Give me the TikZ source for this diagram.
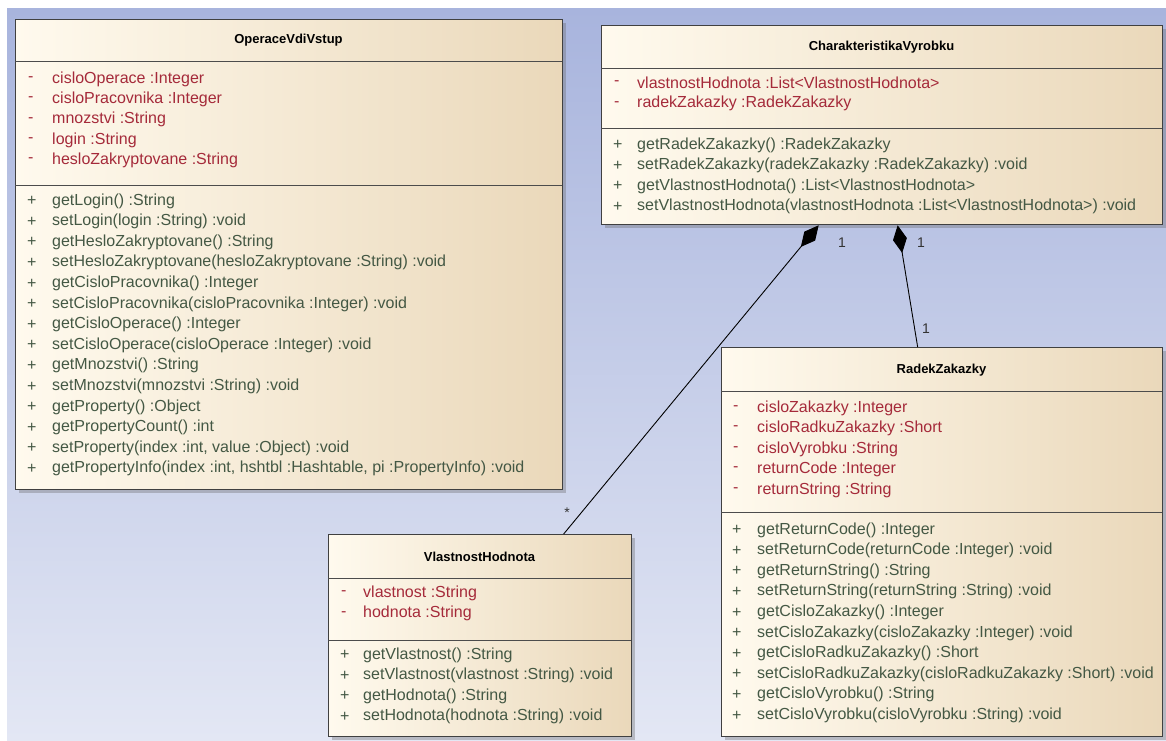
\documentclass[tikz,border=0pt]{standalone}
\usepackage{fontspec}
\setmainfont{Liberation Sans}
\usepackage{tikz}
\usetikzlibrary{arrows.meta,shadows}

\definecolor{bgtop}{RGB}{168,180,221}
\definecolor{bgbot}{RGB}{227,231,244}
\definecolor{boxl}{RGB}{255,250,238}
\definecolor{boxr}{RGB}{234,216,186}
\definecolor{attrc}{RGB}{165,42,58}
\definecolor{opc}{RGB}{68,88,68}

\begin{document}
\begin{tikzpicture}[x=1pt,y=-1pt,
  cls/.style={draw=black!75,line width=1.3pt,left color=boxl,right color=boxr,
    anchor=north west,inner sep=0pt,
    drop shadow={shadow xshift=3pt,shadow yshift=-3pt,fill=black!60,opacity=0.35}},
  sep/.style={draw=black!70,line width=1pt},
  title/.style={inner sep=0pt,font=\fontsize{13}{15}\selectfont\bfseries},
  attr/.style={anchor=west,inner sep=0pt,text=attrc,font=\fontsize{16}{18}\selectfont},
  oper/.style={anchor=west,inner sep=0pt,text=opc,font=\fontsize{16}{18}\selectfont},
  mult/.style={inner sep=0pt,text=black!80,font=\fontsize{14}{16}\selectfont},
  comp/.style={draw=black,line width=0.9pt,-{Diamond[length=28pt,width=14pt]}}]
\useasboundingbox (0,0) rectangle (1166,740);
\fill[white] (0,0) rectangle (1166,740);
\fill[top color=bgtop,bottom color=bgbot] (7,8) rectangle (1166,740);

\node[cls,minimum width=547pt,minimum height=470pt] (opv) at (15,19) {};
\node[title] (opv-t) at (288.5,40) {OperaceVdiVstup};
\draw[sep] (15,61) -- (562,61);
\draw[sep] (15,185) -- (562,185);
\foreach \t [count=\i from 0] in {cisloOperace :Integer,cisloPracovnika :Integer,
    mnozstvi :String,login :String,hesloZakryptovane :String}{
  \node[attr] (opv-am\i) at (28,79+20.3*\i) {-};
  \node[attr] (opv-a\i) at (52,79+20.3*\i) {\t};
}
\foreach \t [count=\i from 0] in {getLogin() :String,setLogin(login :String) :void,
    getHesloZakryptovane() :String,setHesloZakryptovane(hesloZakryptovane :String) :void,
    getCisloPracovnika() :Integer,setCisloPracovnika(cisloPracovnika :Integer) :void,
    getCisloOperace() :Integer,setCisloOperace(cisloOperace :Integer) :void,
    getMnozstvi() :String,setMnozstvi(mnozstvi :String) :void,
    getProperty() :Object,getPropertyCount() :int,
    {setProperty(index :int, value :Object) :void},
    {getPropertyInfo(index :int, hshtbl :Hashtable, pi :PropertyInfo) :void}}{
  \node[oper] (opv-om\i) at (27,201+20.6*\i) {+};
  \node[oper] (opv-o\i) at (52,201+20.6*\i) {\t};
}

\node[cls,minimum width=561pt,minimum height=199pt] (cv) at (601,25) {};
\node[title] (cv-t) at (881.5,47) {CharakteristikaVyrobku};
\draw[sep] (601,68) -- (1162,68);
\draw[sep] (601,128) -- (1162,128);
\foreach \t [count=\i from 0] in {vlastnostHodnota :List<VlastnostHodnota>,
    radekZakazky :RadekZakazky}{
  \node[attr] (cv-am\i) at (614,83+20.6*\i) {-};
  \node[attr] (cv-a\i) at (637,83+20.6*\i) {\t};
}
\foreach \t [count=\i from 0] in {getRadekZakazky() :RadekZakazky,
    setRadekZakazky(radekZakazky :RadekZakazky) :void,
    getVlastnostHodnota() :List<VlastnostHodnota>,
    setVlastnostHodnota(vlastnostHodnota :List<VlastnostHodnota>) :void}{
  \node[oper] (cv-om\i) at (613,145+20.6*\i) {+};
  \node[oper] (cv-o\i) at (637,145+20.6*\i) {\t};
}

\node[cls,minimum width=441pt,minimum height=389pt] (rz) at (721,347) {};
\node[title] (rz-t) at (941.5,370) {RadekZakazky};
\draw[sep] (721,391) -- (1162,391);
\draw[sep] (721,512) -- (1162,512);
\foreach \t [count=\i from 0] in {cisloZakazky :Integer,cisloRadkuZakazky :Short,
    cisloVyrobku :String,returnCode :Integer,returnString :String}{
  \node[attr] (rz-am\i) at (733,408+20.5*\i) {-};
  \node[attr] (rz-a\i) at (757,408+20.5*\i) {\t};
}
\foreach \t [count=\i from 0] in {getReturnCode() :Integer,
    setReturnCode(returnCode :Integer) :void,getReturnString() :String,
    setReturnString(returnString :String) :void,getCisloZakazky() :Integer,
    setCisloZakazky(cisloZakazky :Integer) :void,getCisloRadkuZakazky() :Short,
    setCisloRadkuZakazky(cisloRadkuZakazky :Short) :void,
    getCisloVyrobku() :String,setCisloVyrobku(cisloVyrobku :String) :void}{
  \node[oper] (rz-om\i) at (732,530+20.6*\i) {+};
  \node[oper] (rz-o\i) at (757,530+20.6*\i) {\t};
}

\node[cls,minimum width=303pt,minimum height=202pt] (vh) at (328,534) {};
\node[title] (vh-t) at (479.5,557) {VlastnostHodnota};
\draw[sep] (328,578) -- (631,578);
\draw[sep] (328,640) -- (631,640);
\foreach \t [count=\i from 0] in {vlastnost :String,hodnota :String}{
  \node[attr] (vh-am\i) at (341,593+20.6*\i) {-};
  \node[attr] (vh-a\i) at (363,593+20.6*\i) {\t};
}
\foreach \t [count=\i from 0] in {getVlastnost() :String,
    setVlastnost(vlastnost :String) :void,getHodnota() :String,
    setHodnota(hodnota :String) :void}{
  \node[oper] (vh-om\i) at (340,655+20.6*\i) {+};
  \node[oper] (vh-o\i) at (363,655+20.6*\i) {\t};
}

\draw[comp] ([xshift=83.5pt]vh.north) -- ([xshift=-63.5pt]cv.south);
\draw[comp] ([xshift=-24.5pt]rz.north) -- ([xshift=15.5pt]cv.south);
\node[mult] (m-vh) at (567,513) {*};
\node[mult] (m-cv1) at (842,243) {1};
\node[mult] (m-cv2) at (921,243) {1};
\node[mult] (m-rz) at (926,329) {1};
\end{tikzpicture}
\end{document}
